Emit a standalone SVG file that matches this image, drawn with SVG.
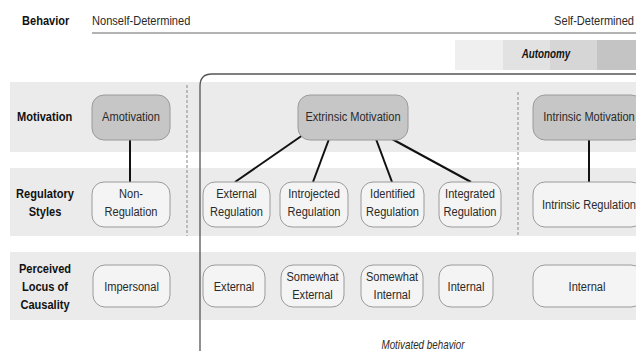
<svg xmlns="http://www.w3.org/2000/svg" width="636" height="351" viewBox="0 0 636 351">
<defs>
<style>
text{font-family:"Liberation Sans",Arial,sans-serif;fill:#2a2a2a;font-size:13.5px}
.hdr{font-weight:bold;fill:#111;font-size:13.5px}
.band{fill:#ebebeb}
.dash{stroke:#999;stroke-width:1.2;stroke-dasharray:3,2;fill:none}
.m{fill:#c6c6c6;stroke:#9a9a9a;stroke-width:1}
.r{fill:#f4f4f4;stroke:#9a9a9a;stroke-width:1}
.c{stroke:#111;stroke-width:2;fill:none}
.ct{text-anchor:middle}
</style>
</defs>
<rect width="636" height="351" fill="#ffffff"/>
<g id="header">
<text class="hdr" transform="translate(22,25) scale(0.82,1)">Behavior</text>
<text transform="translate(92,25) scale(0.82,1)">Nonself-Determined</text>
<text transform="translate(634,25) scale(0.82,1)" text-anchor="end">Self-Determined</text>
<line x1="92" y1="33" x2="636" y2="33" stroke="#666" stroke-width="1"/>
<rect x="455" y="40" width="48" height="30" fill="#efefef"/>
<rect x="503" y="40" width="47" height="30" fill="#e2e2e2"/>
<rect x="550" y="40" width="47" height="30" fill="#d6d6d6"/>
<rect x="597" y="40" width="39" height="30" fill="#c4c4c4"/>
<text class="ct" transform="translate(546,58) scale(0.82,1)" style="font-weight:bold;font-style:italic;font-size:12px;fill:#111">Autonomy</text>
</g>
<g id="bands">
<rect class="band" x="10" y="82" width="626" height="70"/>
<rect class="band" x="10" y="168" width="626" height="68"/>
<rect class="band" x="10" y="252" width="626" height="68"/>
</g>
<line class="dash" x1="187" y1="85" x2="187" y2="236"/>
<line class="dash" x1="518" y1="92" x2="518" y2="236"/>
<g id="motivated-behavior">
<path d="M200,351 V86 Q200,74 212,74 H640" fill="none" stroke="#555" stroke-width="1.3"/>
<text class="ct" transform="translate(423,349) scale(0.82,1)" style="font-style:italic;font-size:12px">Motivated behavior</text>
</g>
<g id="row-labels">
<text class="hdr" transform="translate(17,121) scale(0.82,1)">Motivation</text>
<text class="hdr ct" transform="translate(45,198) scale(0.82,1)">Regulatory</text>
<text class="hdr ct" transform="translate(45,216) scale(0.82,1)">Styles</text>
<text class="hdr ct" transform="translate(45,273) scale(0.82,1)">Perceived</text>
<text class="hdr ct" transform="translate(45,291) scale(0.82,1)">Locus of</text>
<text class="hdr ct" transform="translate(45,309) scale(0.82,1)">Causality</text>
</g>
<g id="connectors">
<line class="c" x1="130" y1="140" x2="130" y2="182"/>
<line class="c" x1="313" y1="128" x2="235" y2="182"/>
<line class="c" x1="329" y1="139" x2="313" y2="182"/>
<line class="c" x1="376" y1="139" x2="392" y2="182"/>
<line class="c" x1="392" y1="139" x2="471" y2="182"/>
<line class="c" x1="589" y1="140" x2="589" y2="182"/>
</g>
<g id="amotivation"><rect class="m" x="92" y="95" width="78" height="45" rx="12"/><text class="ct" transform="translate(131,121) scale(0.82,1)">Amotivation</text></g>
<g id="extrinsic-motivation"><rect class="m" x="298" y="95" width="110" height="45" rx="12"/><text class="ct" transform="translate(353,121) scale(0.82,1)">Extrinsic Motivation</text></g>
<g id="intrinsic-motivation"><rect class="m" x="533" y="95" width="110" height="45" rx="12"/><text class="ct" transform="translate(589,121) scale(0.82,1)">Intrinsic Motivation</text></g>
<g id="non-regulation"><rect class="r" x="92" y="182" width="78" height="45" rx="12"/><text class="ct" transform="translate(131,198) scale(0.82,1)">Non-</text><text class="ct" transform="translate(131,216) scale(0.82,1)">Regulation</text></g>
<g id="external-regulation"><rect class="r" x="203" y="182" width="67" height="45" rx="12"/><text class="ct" transform="translate(236.5,198) scale(0.82,1)">External</text><text class="ct" transform="translate(236.5,216) scale(0.82,1)">Regulation</text></g>
<g id="introjected-regulation"><rect class="r" x="280" y="182" width="68" height="45" rx="12"/><text class="ct" transform="translate(314,198) scale(0.82,1)">Introjected</text><text class="ct" transform="translate(314,216) scale(0.82,1)">Regulation</text></g>
<g id="identified-regulation"><rect class="r" x="361" y="182" width="63" height="45" rx="12"/><text class="ct" transform="translate(392.5,198) scale(0.82,1)">Identified</text><text class="ct" transform="translate(392.5,216) scale(0.82,1)">Regulation</text></g>
<g id="integrated-regulation"><rect class="r" x="439" y="182" width="62" height="45" rx="12"/><text class="ct" transform="translate(470,198) scale(0.82,1)">Integrated</text><text class="ct" transform="translate(470,216) scale(0.82,1)">Regulation</text></g>
<g id="intrinsic-regulation"><rect class="r" x="533" y="182" width="110" height="45" rx="12"/><text class="ct" transform="translate(589,209) scale(0.82,1)">Intrinsic Regulation</text></g>
<g id="impersonal"><rect class="r" x="93" y="265" width="77" height="42" rx="12"/><text class="ct" transform="translate(131.5,291) scale(0.82,1)">Impersonal</text></g>
<g id="external"><rect class="r" x="203" y="265" width="62" height="42" rx="12"/><text class="ct" transform="translate(234,291) scale(0.82,1)">External</text></g>
<g id="somewhat-external"><rect class="r" x="281" y="265" width="63" height="42" rx="12"/><text class="ct" transform="translate(312.5,281) scale(0.82,1)">Somewhat</text><text class="ct" transform="translate(312.5,299) scale(0.82,1)">External</text></g>
<g id="somewhat-internal"><rect class="r" x="361" y="265" width="62" height="42" rx="12"/><text class="ct" transform="translate(392,281) scale(0.82,1)">Somewhat</text><text class="ct" transform="translate(392,299) scale(0.82,1)">Internal</text></g>
<g id="internal"><rect class="r" x="439" y="265" width="54" height="42" rx="12"/><text class="ct" transform="translate(466,291) scale(0.82,1)">Internal</text></g>
<g id="internal-intrinsic"><rect class="r" x="533" y="265" width="110" height="42" rx="12"/><text class="ct" transform="translate(587,291) scale(0.82,1)">Internal</text></g>
</svg>
